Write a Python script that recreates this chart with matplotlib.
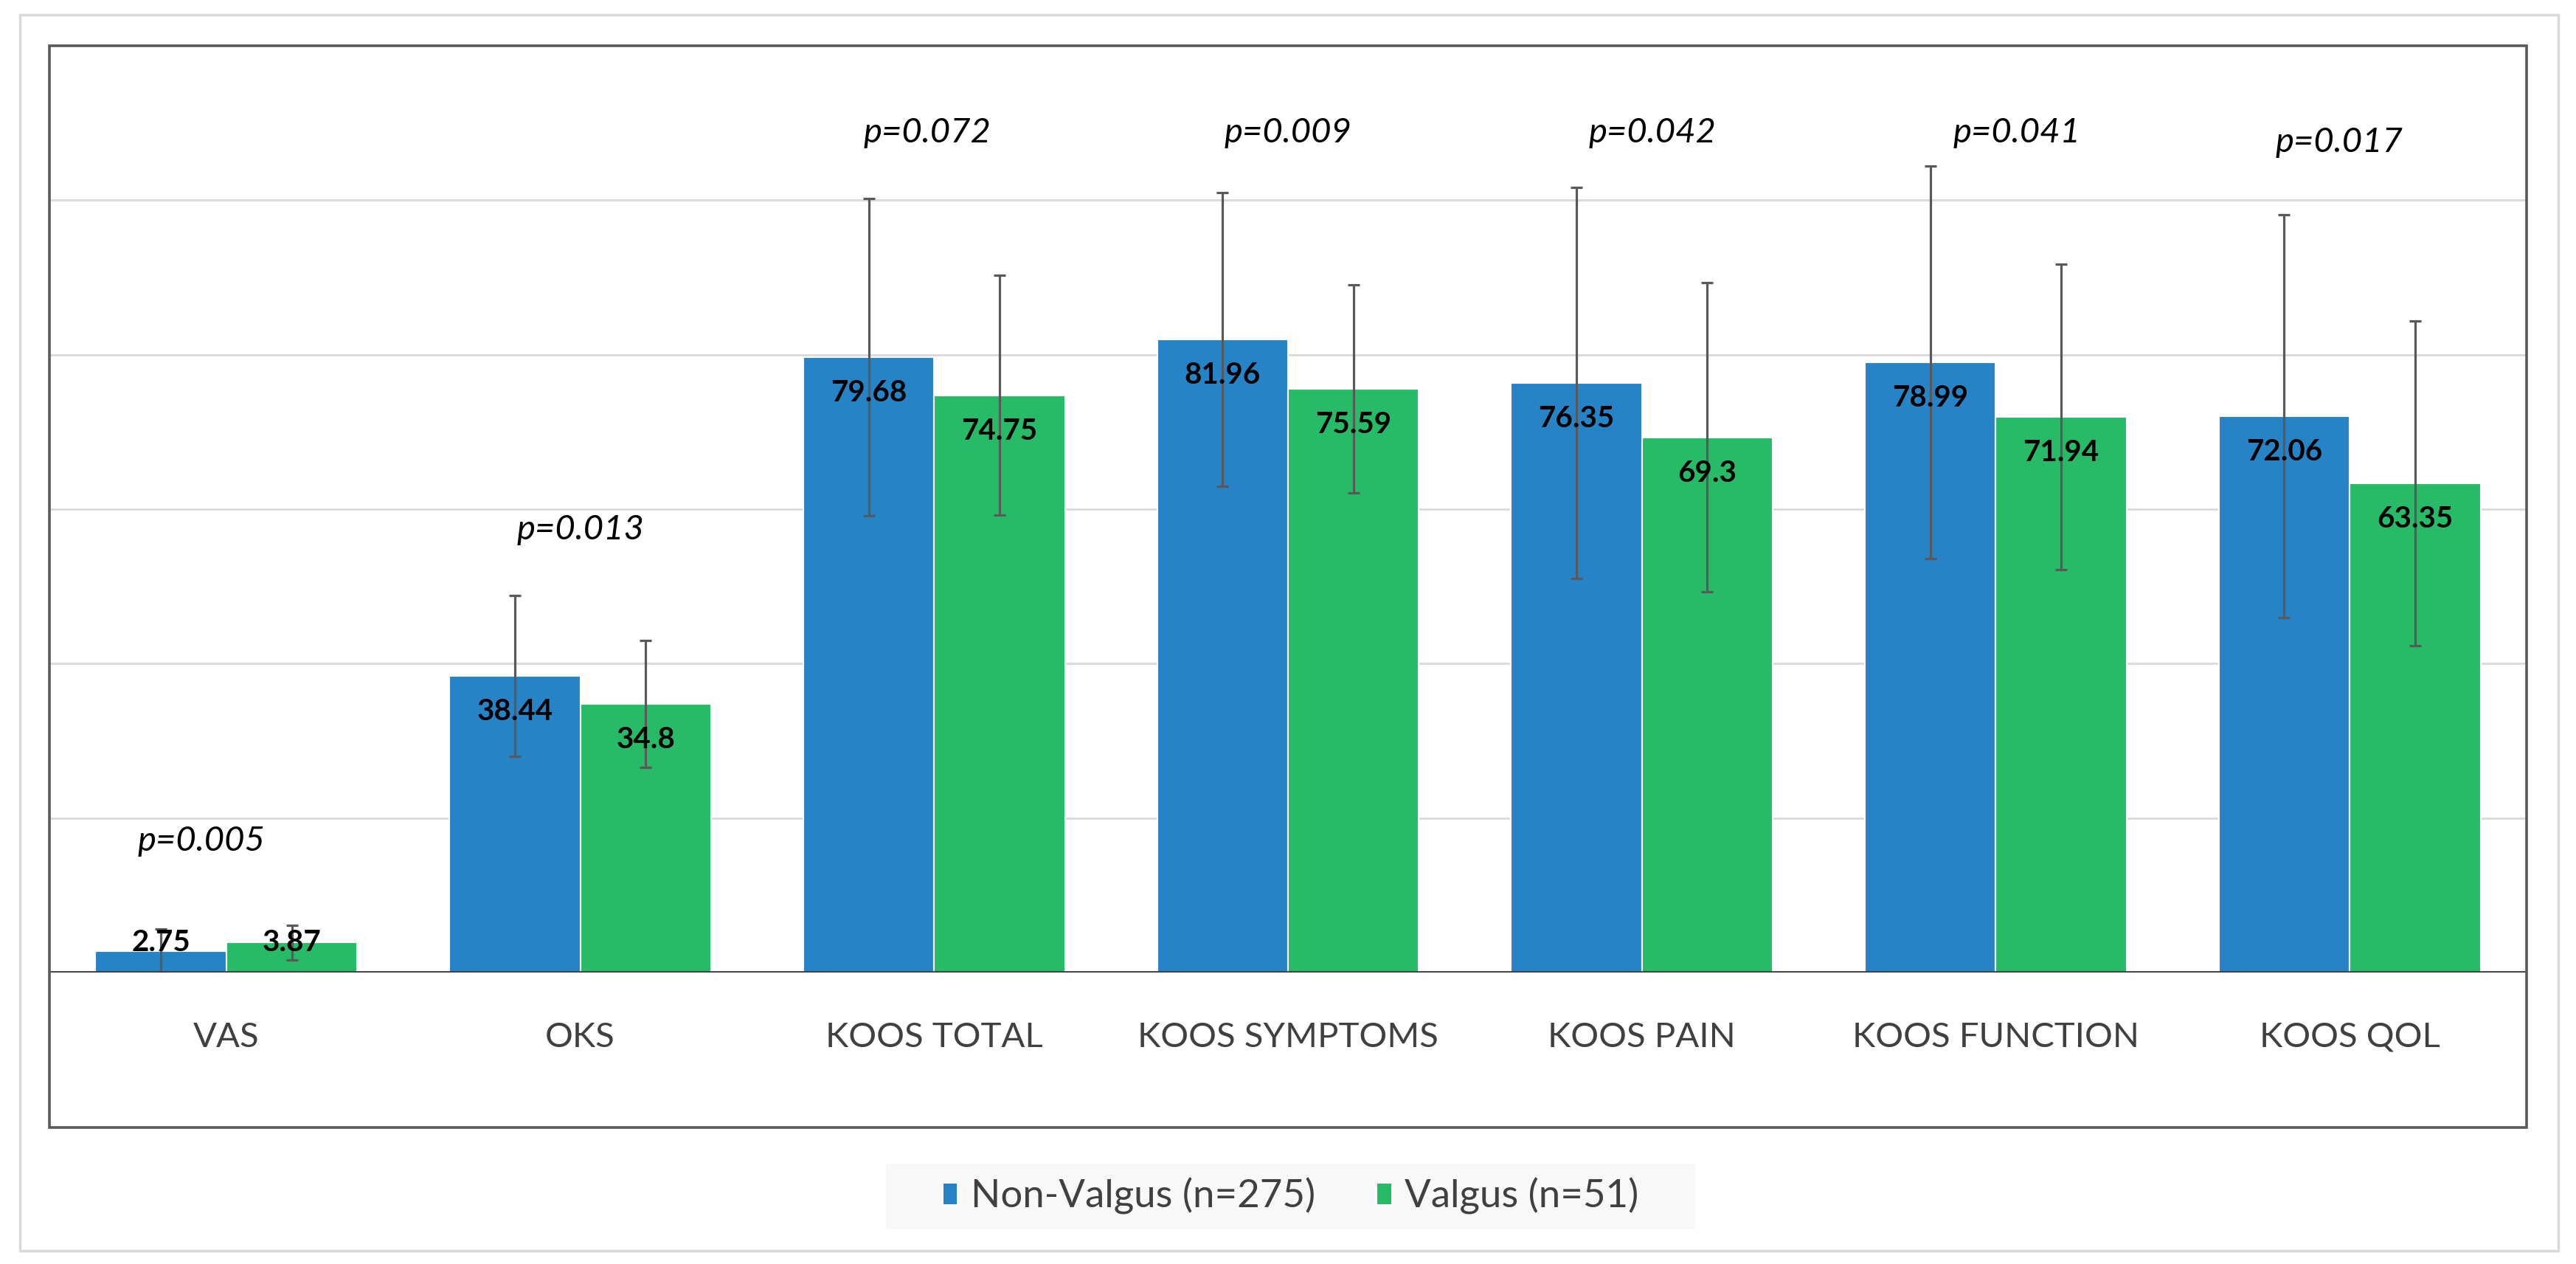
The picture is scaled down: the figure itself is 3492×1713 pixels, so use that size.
import matplotlib
matplotlib.use("Agg")
import matplotlib.pyplot as plt
from matplotlib.patches import Rectangle
import numpy as np

# ---------------- data ----------------
categories = ["VAS", "OKS", "KOOS TOTAL", "KOOS SYMPTOMS", "KOOS PAIN", "KOOS FUNCTION", "KOOS QOL"]
series_names = ["Non-Valgus (n=275)", "Valgus (n=51)"]
non_valgus = [2.75, 38.44, 79.68, 81.96, 76.35, 78.99, 72.06]
valgus = [3.87, 34.8, 74.75, 75.59, 69.3, 71.94, 63.35]
non_valgus_sd = [2.9, 10.4, 20.5, 19.0, 25.3, 25.4, 26.1]
valgus_sd = [2.2, 8.2, 15.5, 13.5, 20.0, 19.8, 21.0]
p_values = ["p=0.005", "p=0.013", "p=0.072", "p=0.009", "p=0.042", "p=0.041", "p=0.017"]
p_label_y = [17.0, 57.3, 108.7, 108.7, 108.7, 108.7, 107.5]
p_label_dx = [-0.07, 0.0, -0.02, 0.0, 0.03, 0.06, -0.03]

# ---------------- style ----------------
BLUE = "#2683C6"
GREEN = "#27BB68"
ERR = "#595959"
FONT = ["Lato", "DejaVu Sans"]

W, H = 3492, 1713
DPI = 100
fig = plt.figure(figsize=(W / DPI, H / DPI), dpi=DPI)
fig.patch.set_facecolor("white")

def fx(px):
    return px / W

def fy(py):
    return 1 - py / H

# outer light frame
fig.patches.append(Rectangle((fx(27), fy(1695)), fx(3468) - fx(27), fy(20) - fy(1695),
                             transform=fig.transFigure, fill=False, edgecolor="#d9d9d9",
                             linewidth=2.5, zorder=0))
# inner dark frame (plot area + category labels)
fig.patches.append(Rectangle((fx(67), fy(1528)), fx(3425) - fx(67), fy(62) - fy(1528),
                             transform=fig.transFigure, fill=False, edgecolor="#595959",
                             linewidth=2.6, zorder=5))

ax = fig.add_axes([fx(67), fy(1318), fx(3425) - fx(67), fy(62) - fy(1318)])
ax.set_facecolor("white")
x = np.arange(len(categories))
bw = 0.37
err_kw = dict(ecolor=ERR, elinewidth=2.3, capsize=5.8, capthick=2.3)
ax.bar(x - bw / 2, non_valgus, bw, color=BLUE, edgecolor="white", linewidth=1.5,
       yerr=non_valgus_sd, error_kw=err_kw, label=series_names[0], zorder=3)
ax.bar(x + bw / 2, valgus, bw, color=GREEN, edgecolor="white", linewidth=1.5,
       yerr=valgus_sd, error_kw=err_kw, label=series_names[1], zorder=3)

ax.set_xlim(-0.5, len(categories) - 0.5)
ax.set_ylim(0, 120)
ax.set_yticks([20, 40, 60, 80, 100])
ax.yaxis.grid(True, color="#d9d9d9", linewidth=2.0, zorder=0)
ax.set_axisbelow(True)
ax.tick_params(axis="y", length=0, labelleft=False)
ax.set_xticks(x)
ax.set_xticklabels(categories, fontsize=34, color="#404040", family=FONT)
ax.tick_params(axis="x", length=0, pad=48)
for s in ax.spines.values():
    s.set_visible(False)
ax.axhline(0, color="#404040", linewidth=3.5, zorder=4)

# value labels (baseline placed so that the digits sit just inside the bar top)
for xs, vals in ((x - bw / 2, non_valgus), (x + bw / 2, valgus)):
    for xi, v in zip(xs, vals):
        ax.text(xi, max(v - 5.75, 2.76), f"{v:g}", ha="center", va="baseline", fontsize=29,
                fontweight="bold", family=FONT, color="black", zorder=6)

# p-value labels
for xi, dx, py, lab in zip(x, p_label_dx, p_label_y, p_values):
    ax.text(xi + dx, py, lab, ha="center", va="center", fontsize=34, style="italic",
            family=FONT, color="black", zorder=6)

# legend box
fig.patches.append(Rectangle((fx(1201), fy(1666)), fx(2298) - fx(1201), fy(1577) - fy(1666),
                             transform=fig.transFigure, facecolor="#f8f8f8", edgecolor="none",
                             zorder=1))
handles, labels = ax.get_legend_handles_labels()
leg = fig.legend(handles, labels, loc="center", bbox_to_anchor=(fx(1750), fy(1621)),
                 ncol=2, frameon=False, prop={"family": FONT, "size": 38},
                 handlelength=0.35, handleheight=0.45, handletextpad=0.35, columnspacing=1.6)
for t in leg.get_texts():
    t.set_color("#404040")
for h in leg.legend_handles:
    h.set_edgecolor("none")

fig.savefig("out.png", dpi=DPI)
